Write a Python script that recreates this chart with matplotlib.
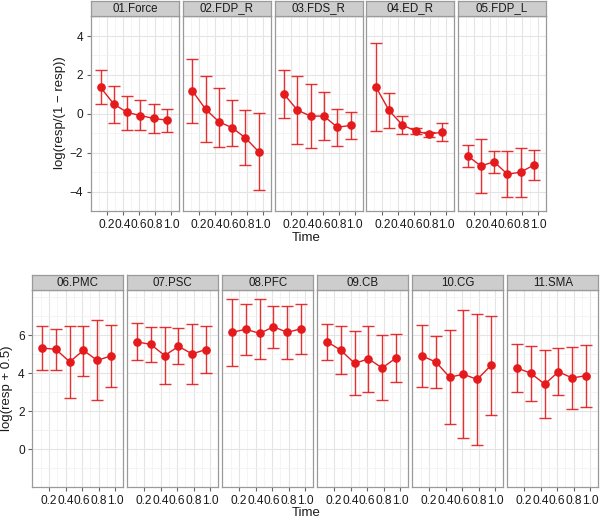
import matplotlib
matplotlib.use("Agg")
import matplotlib.pyplot as plt
import numpy as np

plt.rcParams['font.family'] = ['Liberation Sans', 'DejaVu Sans']

# ---- data ----
time = [0.117, 0.283, 0.45, 0.617, 0.783, 0.95]

top_names = ["01.Force", "02.FDP_R", "03.FDS_R", "04.ED_R", "05.FDP_L"]
top_mean = [
    [1.36, 0.50, 0.07, -0.09, -0.24, -0.33],
    [1.18, 0.24, -0.41, -0.72, -1.24, -1.96],
    [1.01, 0.19, -0.12, -0.12, -0.69, -0.60],
    [1.39, 0.17, -0.58, -0.89, -1.05, -0.94],
    [-2.16, -2.68, -2.47, -3.11, -3.00, -2.63],
]
top_upper = [
    [2.23, 1.44, 0.93, 0.72, 0.48, 0.26],
    [2.82, 1.92, 1.34, 0.69, 0.17, 0.02],
    [2.25, 1.94, 1.51, 1.10, 0.27, 0.10],
    [3.66, 1.08, -0.12, -0.72, -0.94, -0.45],
    [-1.60, -1.32, -1.89, -1.92, -1.75, -1.85],
]
top_lower = [
    [0.52, -0.46, -0.81, -0.84, -1.00, -0.94],
    [-0.45, -1.44, -1.70, -1.67, -2.63, -3.90],
    [-0.21, -1.53, -1.75, -1.36, -1.67, -1.29],
    [-0.86, -0.74, -1.06, -1.03, -1.17, -1.42],
    [-2.75, -4.05, -3.06, -4.30, -4.26, -3.43],
]

bot_names = ["06.PMC", "07.PSC", "08.PFC", "09.CB", "10.CG", "11.SMA"]
bot_mean = [
    [5.33, 5.26, 4.60, 5.21, 4.68, 4.91],
    [5.65, 5.52, 4.93, 5.42, 5.02, 5.25],
    [6.16, 6.32, 6.10, 6.45, 6.16, 6.34],
    [5.66, 5.21, 4.52, 4.76, 4.28, 4.80],
    [4.91, 4.59, 3.79, 3.95, 3.67, 4.41],
    [4.27, 4.00, 3.42, 4.08, 3.75, 3.87],
]
bot_upper = [
    [6.48, 6.34, 6.48, 6.51, 6.79, 6.55],
    [6.63, 6.45, 6.42, 6.39, 6.61, 6.48],
    [7.94, 7.67, 7.94, 7.57, 7.56, 7.64],
    [6.59, 6.48, 6.21, 6.48, 6.00, 6.06],
    [6.55, 5.97, 6.26, 7.32, 7.12, 7.03],
    [5.52, 5.45, 5.25, 5.31, 5.39, 5.47],
]
bot_lower = [
    [4.17, 4.16, 2.71, 3.87, 2.60, 3.27],
    [4.68, 4.59, 3.42, 4.48, 3.42, 4.00],
    [4.40, 4.96, 4.76, 5.33, 4.73, 5.02],
    [4.72, 3.96, 2.87, 3.03, 2.57, 3.53],
    [3.26, 3.21, 1.33, 0.58, 0.19, 1.81],
    [3.00, 2.53, 1.62, 2.86, 2.12, 2.23],
]

x_ticks = [0.2, 0.4, 0.6, 0.8, 1.0]
x_ticklabels = ["0.2", "0.4", "0.6", "0.8", "1.0"]
top_yticks = [-4, -2, 0, 2, 4]
bot_yticks = [0, 2, 4, 6]

# ---- layout ----
W, H = 601, 518
fig = plt.figure(figsize=(W / 100, H / 100), dpi=100)

RED = '#e41a1c'
BORDER = '#9a9a9a'
TICKC = '#666666'
TXT = '#1a1a1a'


def px_axes(x0, y0, w, h):
    return fig.add_axes([x0 / W, 1 - (y0 + h) / H, w / W, h / H])


def panel(x0, y_top, w, h, strip_h, name, mean, lo, up, ylim, yticks, first):
    ax = px_axes(x0, y_top, w, h)
    ax.set_facecolor('white')
    ax.set_xlim(-0.003, 1.069)
    ax.set_ylim(*ylim)
    ax.set_xticks(x_ticks)
    ax.set_xticklabels(x_ticklabels)
    ax.set_xticks(np.arange(0.0, 1.01, 0.2) + 0.1, minor=True)
    ax.set_yticks(yticks)
    ymin_minor = [v for v in np.arange(np.floor(ylim[0]), ylim[1], 1.0) if v not in yticks]
    ax.set_yticks(ymin_minor, minor=True)
    ax.grid(which='major', color='#e4e4e4', lw=0.8)
    ax.grid(which='minor', color='#f2f2f2', lw=0.6)
    ax.set_axisbelow(True)
    for s in ax.spines.values():
        s.set_color(BORDER)
        s.set_linewidth(0.9)
    ax.tick_params(which='major', direction='out', length=3, width=0.8, color=TICKC,
                   labelsize=8.6, labelcolor=TXT, pad=2.5)
    ax.tick_params(which='minor', length=0)
    if not first:
        ax.tick_params(axis='y', which='both', left=False, labelleft=False)
    m = np.array(mean)
    yerr = np.vstack([m - np.array(lo), np.array(up) - m])
    ax.errorbar(time, m, yerr=yerr, fmt='none', ecolor=RED, elinewidth=1.0,
                capsize=4.2, capthick=1.0, zorder=3, alpha=0.9)
    ax.plot(time, m, '-', color=RED, lw=1.0, zorder=4)
    ax.plot(time, m, 'o', color=RED, ms=5.2, mec=RED, zorder=5)
    # strip
    sx = px_axes(x0, y_top - strip_h, w, strip_h)
    sx.set_facecolor('#cdcdcd')
    sx.set_xticks([])
    sx.set_yticks([])
    for s in sx.spines.values():
        s.set_color(BORDER)
        s.set_linewidth(0.9)
    sx.text(0.5, 0.48, name, ha='center', va='center', fontsize=8.3, color=TXT,
            transform=sx.transAxes)
    return ax


# top row
for i in range(5):
    panel(91 + i * 91.75, 16, 88, 195, 15.5, top_names[i], top_mean[i], top_lower[i],
          top_upper[i], (-4.98, 5.03), top_yticks, i == 0)

# bottom row
for i in range(6):
    panel(32.3 + i * 95.0, 290, 91, 197, 15, bot_names[i], bot_mean[i], bot_lower[i],
          bot_upper[i], (-1.07, 8.39), bot_yticks, i == 0)

fig.text(306 / W, 1 - 238 / H, "Time", ha='center', va='center', fontsize=9.5, color=TXT)
fig.text(306 / W, 1 - 513 / H, "Time", ha='center', va='center', fontsize=9.5, color=TXT)
fig.text(60 / W, 1 - 113 / H, "log(resp/(1 \u2212 resp))", ha='center', va='center',
         rotation=90, fontsize=9.5, color=TXT)
fig.text(7 / W, 1 - 388 / H, "log(resp + 0.5)", ha='center', va='center',
         rotation=90, fontsize=9.5, color=TXT)

fig.savefig("out.png", dpi=100)
